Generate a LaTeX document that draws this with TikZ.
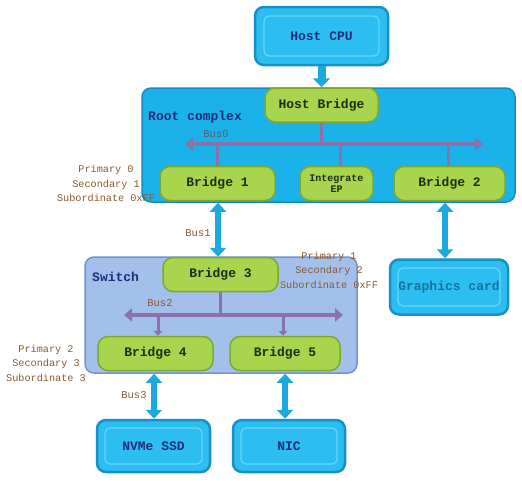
\documentclass[tikz,border=0pt]{standalone}
\usepackage{fontspec}
\setmonofont{Liberation Mono}
\usetikzlibrary{arrows.meta,positioning}
\definecolor{PCIeCyan}{HTML}{2CBEF0}
\definecolor{PCIeCyanDark}{HTML}{1690C6}
\definecolor{PCIeCyanLight}{HTML}{6AD6F8}
\definecolor{PCIeRoot}{HTML}{1BB2EA}
\definecolor{PCIeRootEdge}{HTML}{1A8AC2}
\definecolor{PCIeGreen}{HTML}{A9D44E}
\definecolor{PCIeGreenDark}{HTML}{7FA830}
\definecolor{PCIeSwitch}{HTML}{A3C0EA}
\definecolor{PCIeSwitchEdge}{HTML}{7393CC}
\definecolor{PCIePurple}{HTML}{8C72AC}
\definecolor{PCIeLink}{HTML}{1EA8E0}
\definecolor{PCIeNavy}{HTML}{1E2E7A}
\definecolor{PCIeInk}{HTML}{1B2E12}
\definecolor{PCIeBrown}{HTML}{8B5A2B}
\definecolor{PCIeBusGrey}{HTML}{4A6670}

\begin{document}
\begin{tikzpicture}[
    x=1pt, y=-1pt,
    devbox/.style={
      draw=PCIeCyanDark, line width=2.5pt, fill=PCIeCyan, rounded corners=9pt,
      inner sep=0pt, font=\ttfamily\bfseries\fontsize{13}{14}\selectfont, text=PCIeNavy
    },
    devinner/.style={draw=PCIeCyanLight, line width=1.2pt, rounded corners=5pt, inner sep=0pt},
    bridgebox/.style={
      draw=PCIeGreenDark, line width=1.5pt, fill=PCIeGreen, rounded corners=10pt,
      minimum width=115pt, minimum height=34pt, inner sep=0pt,
      font=\ttfamily\bfseries\fontsize{13}{14}\selectfont, text=PCIeInk
    },
    groupbox/.style={rounded corners=9pt, line width=1.5pt, inner sep=0pt},
    grouplbl/.style={font=\ttfamily\bfseries\fontsize{13}{15}\selectfont, anchor=west, inner sep=0pt},
    busline/.style={{Triangle[length=8pt,width=13pt]}-{Triangle[length=8pt,width=13pt]},
      line width=4.5pt, color=PCIePurple},
    stub/.style={line width=3pt, color=PCIePurple},
    stubarr/.style={-{Triangle[length=5pt,width=9pt]}, line width=3pt, color=PCIePurple},
    linkarr/.style={{Triangle[length=9pt,width=16pt]}-{Triangle[length=9pt,width=16pt]},
      line width=6pt, color=PCIeLink},
    downarr/.style={-{Triangle[length=9pt,width=17pt]}, line width=8pt, color=PCIeLink},
    note/.style={font=\ttfamily\fontsize{10.2}{14.5}\selectfont, text=PCIeBrown, align=center, inner sep=0pt},
    buslbl/.style={font=\ttfamily\fontsize{10.5}{12}\selectfont, text=PCIeBrown, inner sep=0pt}
  ]
  \useasboundingbox (0,0) rectangle (522,480);

  % Containers
  \node[groupbox, fill=PCIeRoot, draw=PCIeRootEdge, minimum width=373pt, minimum height=114pt] (root) at (328.5,145) {};
  \node[grouplbl, text=PCIeNavy] (rootlbl) at (148,117) {Root complex};
  \node[groupbox, fill=PCIeSwitch, draw=PCIeSwitchEdge, minimum width=272pt, minimum height=116pt] (switch) at (221,315) {};
  \node[grouplbl, text=PCIeNavy] (switchlbl) at (92,277) {Switch};

  % Host CPU
  \node[devbox, minimum width=133pt, minimum height=58pt] (cpu) at (321.5,36) {Host CPU};
  \node[devinner, minimum width=115pt, minimum height=40pt] (cpuin) at (cpu) {};

  % Root complex bridges
  \node[bridgebox, minimum width=113pt] (hostbr) at (321.5,105) {Host Bridge};
  \node[bridgebox] (br1) at (217.5,183.5) {Bridge 1};
  \node[bridgebox, minimum width=73pt, font=\ttfamily\bfseries\fontsize{10}{11}\selectfont, align=center] (iep) at (336.5,183.5) {Integrate\\EP};
  \node[bridgebox, minimum width=111pt] (br2) at (449.5,183.5) {Bridge 2};

  % Switch bridges
  \node[bridgebox] (br3) at (220.5,274.5) {Bridge 3};
  \node[bridgebox] (br4) at (155.5,353.5) {Bridge 4};
  \node[bridgebox, minimum width=110pt] (br5) at (285,353.5) {Bridge 5};

  % Endpoints
  \node[devbox, minimum width=118pt, minimum height=55pt, text=PCIeCyanDark!80!black] (gpu) at (449,287) {Graphics card};
  \node[devinner, minimum width=102pt, minimum height=38pt] (gpuin) at (gpu) {};
  \node[devbox, minimum width=113pt, minimum height=52pt] (ssd) at (153.5,446) {NVMe SSD};
  \node[devinner, minimum width=97pt, minimum height=36pt] (ssdin) at (ssd) {};
  \node[devbox, minimum width=112pt, minimum height=52pt] (nic) at (289,446) {NIC};
  \node[devinner, minimum width=96pt, minimum height=36pt] (nicin) at (nic) {};

  % Bus 0
  \coordinate (bus0w) at (185,144);
  \coordinate (bus0e) at (483,144);
  \draw[busline] (bus0w) -- (bus0e);
  \draw[stub] (hostbr.south) -- (hostbr |- bus0w);
  \draw[stub] (br1 |- bus0w) -- (br1.north);
  \draw[stub] (iep.north -| 340,0) -- (340,144);
  \draw[stub] (br2.north -| 448,0) -- (448,144);
  \node[buslbl, text=PCIeBusGrey] (bus0) at (216,134) {Bus0};

  % Bus 2
  \coordinate (bus2w) at (124,315);
  \coordinate (bus2e) at (343,315);
  \draw[busline] (bus2w) -- (bus2e);
  \draw[stub] (br3.south) -- (br3 |- bus2w);
  \draw[stubarr] (158,315) -- (br4.north -| 158,0);
  \draw[stubarr] (283,315) -- (br5.north -| 283,0);
  \node[buslbl] (bus2) at (160,303) {Bus2};

  % Links
  \draw[downarr] (cpu.south) -- (hostbr.north);
  \draw[linkarr] (root.south -| 218,0) -- (br3.north -| 218,0);
  \draw[linkarr] (root.south -| 445,0) -- (gpu.north -| 445,0);
  \draw[linkarr] (switch.south -| 154,0) -- (ssd.north -| 154,0);
  \draw[linkarr] (switch.south -| 285,0) -- (nic.north -| 285,0);
  \node[buslbl] (bus1) at (198,233) {Bus1};
  \node[buslbl] (bus3) at (134,395) {Bus3};

  % Bus numbers
  \node[note] (cfg1) at (106,183.5) {Primary 0\\Secondary 1\\Subordinate 0xFF};
  \node[note] (cfg3) at (329,270) {Primary 1\\Secondary 2\\Subordinate 0xFF};
  \node[note] (cfg4) at (46,363) {Primary 2\\Secondary 3\\Subordinate 3};

\end{tikzpicture}
\end{document}
